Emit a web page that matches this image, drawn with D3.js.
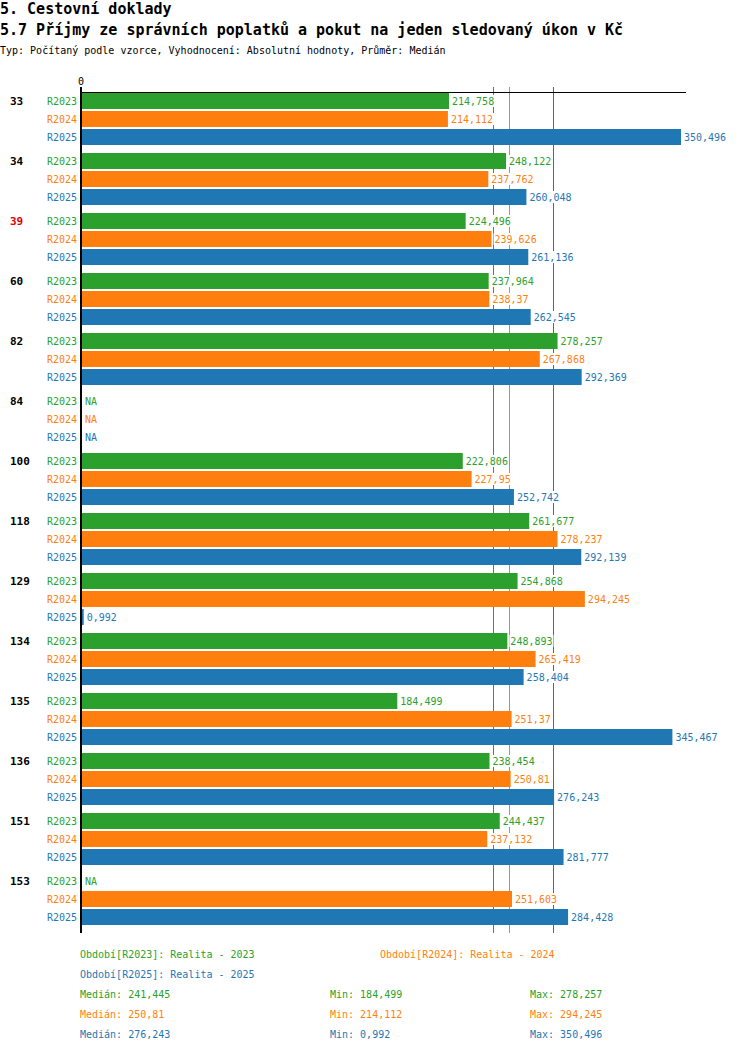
<!DOCTYPE html>
<html>
<head>
<meta charset="utf-8">
<script src="https://cdn.jsdelivr.net/npm/d3@7"></script>
<style>
  body { margin: 0; background: #fff; }
  svg { font-family: "DejaVu Sans Mono", monospace; }
</style>
</head>
<body>
<script>
// data
var groups = ["33", "34", "39", "60", "82", "84", "100", "118", "129", "134", "135", "136", "151", "153"];
var series = ["R2023", "R2024", "R2025"];
var seriesNames = ["Realita - 2023", "Realita - 2024", "Realita - 2025"];
var colors = ["#2ca02c", "#ff7f0e", "#1f77b4"];
var highlighted = ["39"];

var r2023 = [214.758, 248.122, 224.496, 237.964, 278.257, null, 222.806, 261.677, 254.868, 248.893, 184.499, 238.454, 244.437, null];
var r2024 = [214.112, 237.762, 239.626, 238.37, 267.868, null, 227.95, 278.237, 294.245, 265.419, 251.37, 250.81, 237.132, 251.603];
var r2025 = [350.496, 260.048, 261.136, 262.545, 292.369, null, 252.742, 292.139, 0.992, 258.404, 345.467, 276.243, 281.777, 284.428];
var values = [r2023, r2024, r2025];

var W = 750, H = 1052;
var svg = d3.select("body").append("svg")
    .attr("width", W)
    .attr("height", H);

// 3 decimals, cut (not rounded), decimal comma
var fmt = function(v) {
    var t = Math.floor(v * 1000 + 1e-6) / 1000;
    return d3.format(".3~f")(t).replace(".", ",");
};

// titles
svg.append("text").attr("x", 0).attr("y", 14)
    .style("font-size", "15px").style("font-weight", "bold")
    .text("5. Cestovní doklady");
svg.append("text").attr("x", 0).attr("y", 35)
    .style("font-size", "15px").style("font-weight", "bold")
    .text("5.7 Příjmy ze správních poplatků a pokut na jeden sledovaný úkon v Kč");
svg.append("text").attr("x", 0).attr("y", 54)
    .style("font-size", "10px")
    .text("Typ: Počítaný podle vzorce, Vyhodnocení: Absolutní hodnoty, Průměr: Medián");

// scales
var allVals = d3.merge(values).filter(function(v) { return v != null; });
var x = d3.scaleLinear()
    .domain([0, d3.max(allVals) * 604 / 599])
    .range([82, 686]);

var y0 = d3.scaleBand().domain(groups).range([93, 93 + groups.length * 60]);
var y1 = d3.scaleBand().domain(series).range([0, 52]).paddingInner(1 / 9);

var axisTop = 87, axisBottom = 93 + groups.length * 60;

// median lines (behind bars)
var medians = values.map(function(s) { return d3.median(s.filter(function(v) { return v != null; })); });
svg.selectAll("line.median")
    .data(medians)
    .enter().append("line")
    .attr("class", "median")
    .attr("x1", function(d) { return Math.floor(x(d)) - 0.5; })
    .attr("x2", function(d) { return Math.floor(x(d)) - 0.5; })
    .attr("y1", axisTop)
    .attr("y2", axisBottom)
    .style("stroke", function(d, i) { return colors[i]; })
    .style("stroke-width", 1);

// top axis
svg.append("line")
    .attr("x1", 80).attr("x2", x.range()[1])
    .attr("y1", 92.5).attr("y2", 92.5)
    .style("stroke", "black").style("stroke-width", 1);
svg.append("text")
    .attr("x", 81).attr("y", 85)
    .attr("text-anchor", "middle")
    .style("font-size", "10px")
    .text("0");

// bars
groups.forEach(function(g, gi) {
    var gy = y0(g);

    svg.append("text")
        .attr("x", 10)
        .attr("y", gy + y1("R2023") + y1.bandwidth() / 2)
        .attr("dominant-baseline", "central")
        .style("font-size", "11px")
        .style("font-weight", "bold")
        .style("fill", highlighted.indexOf(g) >= 0 ? "#e00000" : "black")
        .text(g);

    series.forEach(function(s, si) {
        var v = values[si][gi];
        var by = gy + y1(s);
        var cy = by + y1.bandwidth() / 2;

        svg.append("text")
            .attr("x", 77)
            .attr("y", cy)
            .attr("text-anchor", "end")
            .attr("dominant-baseline", "central")
            .style("font-size", "10px")
            .style("fill", colors[si])
            .text(s);

        if (v != null) {
            svg.append("rect")
                .attr("x", x(0))
                .attr("y", by)
                .attr("width", x(v) - x(0))
                .attr("height", y1.bandwidth())
                .style("fill", colors[si]);
        }

        var lx = (v != null ? x(v) : x(0)) + 3;
        var label = v != null ? fmt(v) : "NA";
        var tw = label.length * 6.02;
        svg.append("rect")
            .attr("x", lx - 1)
            .attr("y", cy - 6)
            .attr("width", tw + 2)
            .attr("height", 12)
            .style("fill", "white");
        svg.append("text")
            .attr("x", lx)
            .attr("y", cy)
            .attr("dominant-baseline", "central")
            .style("font-size", "10px")
            .style("fill", colors[si])
            .text(label);
    });
});

// left axis
svg.append("line")
    .attr("x1", 81).attr("x2", 81)
    .attr("y1", axisTop).attr("y2", axisBottom)
    .style("stroke", "black").style("stroke-width", 2);

// legend
var legendPos = [[80, 954], [380, 954], [80, 974]];
series.forEach(function(s, i) {
    svg.append("text")
        .attr("x", legendPos[i][0]).attr("y", legendPos[i][1])
        .attr("dominant-baseline", "central")
        .style("font-size", "10px")
        .style("fill", colors[i])
        .text("Období[" + s + "]: " + seriesNames[i]);
});

values.forEach(function(s, i) {
    var vals = s.filter(function(v) { return v != null; });
    var ly = 994 + i * 20;
    var stats = [["Medián: ", d3.median(vals), 80], ["Min: ", d3.min(vals), 330], ["Max: ", d3.max(vals), 530]];
    stats.forEach(function(st) {
        svg.append("text")
            .attr("x", st[2]).attr("y", ly)
            .attr("dominant-baseline", "central")
            .style("font-size", "10px")
            .style("fill", colors[i])
            .text(st[0] + fmt(st[1]));
    });
});
</script>
</body>
</html>
